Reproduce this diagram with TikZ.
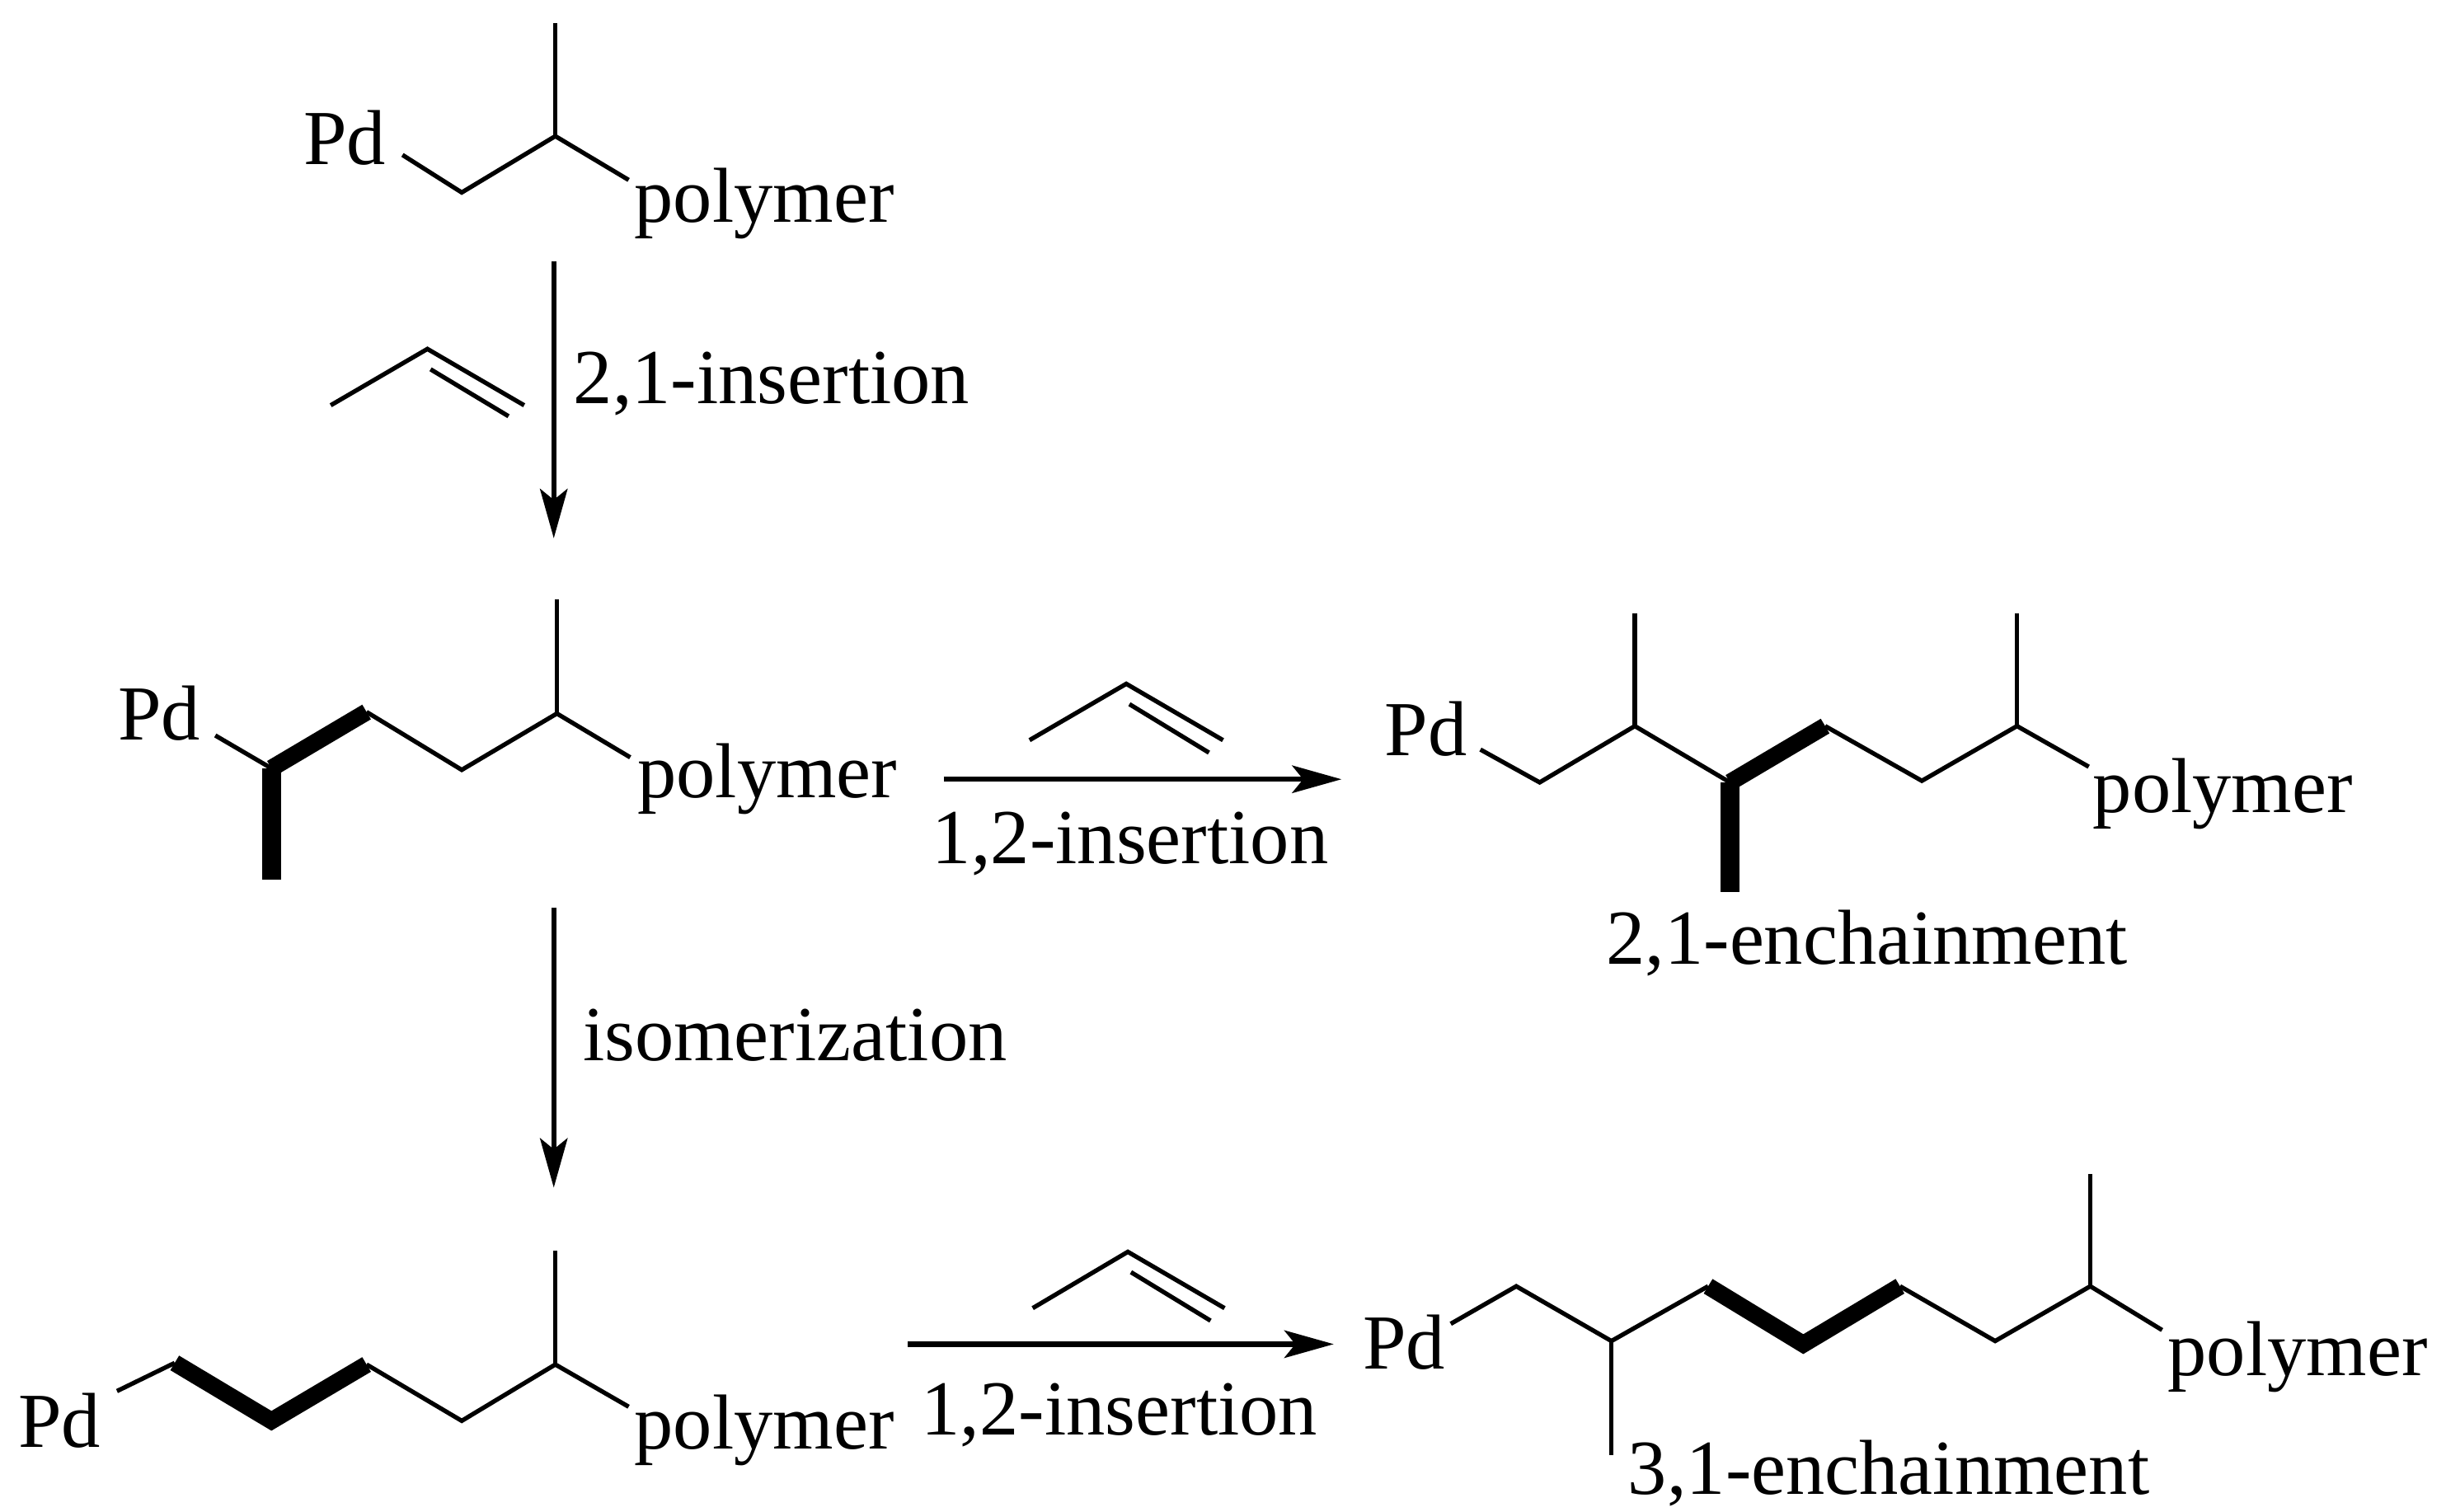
\documentclass[tikz,border=0pt]{standalone}
\usepackage{fontspec}
\setmainfont{Liberation Serif}
\usetikzlibrary{arrows.meta}
\tikzset{
  x=0.01cm,y=-0.01003cm,
  bond/.style={line width=0.8pt,line cap=butt,line join=miter},
  wedge/.style={line width=3.1pt,line cap=butt,line join=miter},
  heavy/.style={line width=3.4pt,line cap=butt},
  rxn/.style={line width=0.95pt,-{Stealth[length=9pt,width=5pt,inset=2pt]}},
  lab/.style={font=\fontsize{14.2}{16}\selectfont,inner sep=0pt,anchor=base west},
}
\begin{document}
\begin{tikzpicture}
\useasboundingbox (0,0) rectangle (1568,965.8);
% top
\node[lab] (pd1) at (194,105) {Pd};
\node[lab] (po1) at (406,142) {polymer};
\coordinate (a1) at (258,99);\coordinate (a2) at (296,123);\coordinate (a3) at (356,87);\coordinate (a4) at (356,15);\coordinate (a5) at (403,115);
\draw[bond] (a1)--(a2)--(a3)--(a5);\draw[bond] (a3)--(a4);
% arrow 1
\coordinate (r1a) at (355,167);\coordinate (r1b) at (355,344);
\draw[rxn] (r1a)--(r1b);
\node[lab] (t1) at (367,258) {2,1-insertion};
\coordinate (p1) at (212,259);\coordinate (p2) at (274,223);\coordinate (p3) at (336,259);\coordinate (p4) at (276,236);\coordinate (p5) at (326,266);
\draw[bond] (p1)--(p2)--(p3);\draw[bond] (p4)--(p5);
% middle left
\node[lab] (pd2) at (75,473) {Pd};
\node[lab] (po2) at (408,510) {polymer};
\coordinate (b1) at (138,470);\coordinate (b2) at (174,491);\coordinate (b3) at (235,455);\coordinate (b4) at (296,492);\coordinate (b5) at (357,456);\coordinate (b6) at (357,383);\coordinate (b7) at (404,484);\coordinate (b8) at (174,562);
\draw[bond] (b1)--(b2);\draw[wedge] (b2)--(b3);\draw[bond] (b3)--(b4)--(b5)--(b7);\draw[bond] (b5)--(b6);\draw[heavy] (b2)--(b8);
% arrow 2
\coordinate (r2a) at (605,498);\coordinate (r2b) at (860,498);
\draw[rxn] (r2a)--(r2b);
\node[lab] (t2) at (597,552) {1,2-insertion};
\coordinate (q1) at (660,473);\coordinate (q2) at (722,437);\coordinate (q3) at (784,473);\coordinate (q4) at (724,450);\coordinate (q5) at (775,481);
\draw[bond] (q1)--(q2)--(q3);\draw[bond] (q4)--(q5);
% middle right
\node[lab] (pd3) at (887,483) {Pd};
\node[lab] (po3) at (1341,519) {polymer};
\node[lab] (e1) at (1029,616) {2,1-enchainment};
\coordinate (c1) at (949,479);\coordinate (c2) at (987,500);\coordinate (c3) at (1048,464);\coordinate (c4) at (1048,392);\coordinate (c5) at (1109,500);\coordinate (c6) at (1170,464);\coordinate (c7) at (1232,499);\coordinate (c8) at (1293,464);\coordinate (c9) at (1293,392);\coordinate (c10) at (1339,490);\coordinate (c11) at (1109,570);
\draw[bond] (c1)--(c2)--(c3)--(c5);\draw[bond] (c3)--(c4);\draw[wedge] (c5)--(c6);\draw[bond] (c6)--(c7)--(c8)--(c10);\draw[bond] (c8)--(c9);\draw[heavy] (c5)--(c11);
% arrow 3
\coordinate (r3a) at (355,580);\coordinate (r3b) at (355,759);
\draw[rxn] (r3a)--(r3b);
\node[lab] (t3) at (373,678) {isomerization};
% bottom left
\node[lab] (pd4) at (11,925) {Pd};
\node[lab] (po4) at (406,926) {polymer};
\coordinate (d1) at (75,889);\coordinate (d2) at (112,871);\coordinate (d3) at (174,908);\coordinate (d4) at (235,872);\coordinate (d5) at (296,908);\coordinate (d6) at (356,872);\coordinate (d7) at (356,799);\coordinate (d8) at (403,899);
\draw[bond] (d1)--(d2);\draw[wedge] (d2)--(d3)--(d4);\draw[bond] (d4)--(d5)--(d6)--(d8);\draw[bond] (d6)--(d7);
% arrow 4
\coordinate (r4a) at (582,859);\coordinate (r4b) at (855,859);
\draw[rxn] (r4a)--(r4b);
\node[lab] (t4) at (590,917) {1,2-insertion};
\coordinate (s1) at (662,836);\coordinate (s2) at (723,800);\coordinate (s3) at (785,836);\coordinate (s4) at (725,813);\coordinate (s5) at (776,844);
\draw[bond] (s1)--(s2)--(s3);\draw[bond] (s4)--(s5);
% bottom right
\node[lab] (pd5) at (873,875) {Pd};
\node[lab] (po5) at (1389,879) {polymer};
\node[lab] (e2) at (1043,955) {3,1-enchainment};
\coordinate (f1) at (930,846);\coordinate (f2) at (972,822);\coordinate (f3) at (1033,857);\coordinate (f4) at (1033,930);\coordinate (f5) at (1095,822);\coordinate (f6) at (1156,859);\coordinate (f7) at (1218,822);\coordinate (f8) at (1279,857);\coordinate (f9) at (1340,822);\coordinate (f10) at (1340,750);\coordinate (f11) at (1386,850);
\draw[bond] (f1)--(f2)--(f3)--(f5);\draw[bond] (f3)--(f4);\draw[wedge] (f5)--(f6)--(f7);\draw[bond] (f7)--(f8)--(f9)--(f11);\draw[bond] (f9)--(f10);
\end{tikzpicture}
\end{document}
